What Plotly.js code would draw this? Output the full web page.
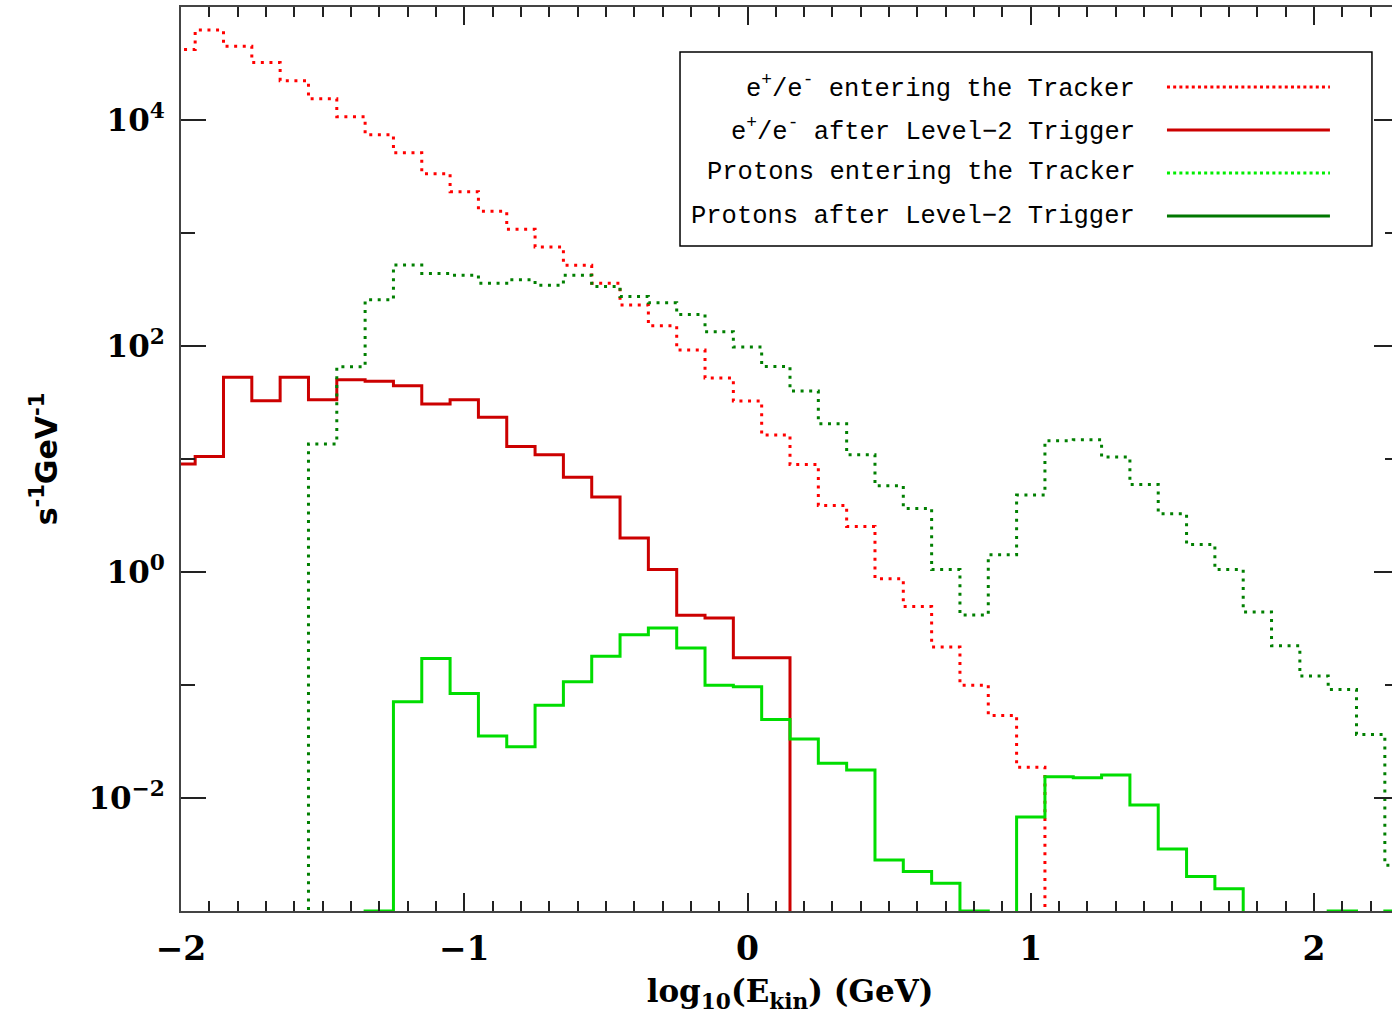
<!DOCTYPE html>
<html><head><meta charset="utf-8">
<script src="https://cdn.plot.ly/plotly-3.0.1.min.js"></script>
<style>html,body{margin:0;padding:0;overflow:hidden;background:#fff}#chart{width:1400px;height:1015px}</style>
</head><body><div id="chart"></div><script>
// bin centres of log10(Ekin/GeV), bin width 0.1
const binCenters = [-2.0,-1.9,-1.8,-1.7,-1.6,-1.5,-1.4,-1.3,-1.2,-1.1,-1.0,-0.9,-0.8,-0.7,-0.6,-0.5,-0.4,-0.3,-0.2,-0.1,
  0.0,0.1,0.2,0.3,0.4,0.5,0.6,0.7,0.8,0.9,1.0,1.1,1.2,1.3,1.4,1.5,1.6,1.7,1.8,1.9,2.0,2.1,2.2,2.3];
const binWidth = 0.1;

// rates in s^-1 GeV^-1 (0 = empty bin)
const eeEntering = [42000,62600,44900,32200,22300,15400,10700,7400,5130,3350,2320,1555,1078,752,518,359,231,151,92,52,
  32.6,16.3,8.92,3.88,2.53,0.873,0.494,0.217,0.0996,0.0538,0.0187,0,0,0,0,0,0,0,0,0,0,0,0,0];
const eeAfterL2 = [9.05,10.5,52.8,32.8,52.8,33.5,50.3,48.7,44.5,30.7,33.5,23.4,12.9,10.9,6.91,4.60,2.00,1.05,0.414,0.392,
  0.174,0.174,0,0,0,0,0,0,0,0,0,0,0,0,0,0,0,0,0,0,0,0,0,0];
const pEntering = [0,0,0,0,0,13.6,65.5,256,521,438,423,359,385,345,423,336,274,241,190,134,
  97.8,65.8,40.0,20.5,10.9,5.79,3.65,1.05,0.417,1.42,4.79,14.5,14.8,10.4,5.94,3.27,1.75,1.05,0.443,0.222,0.120,0.0912,0.0365,0.00254];
const pAfterL2 = [0,0,0,0,0,0,0,0.001,0.0711,0.1715,0.0841,0.0354,0.0284,0.0663,0.1067,0.1796,0.279,0.320,0.213,0.0996,
  0.0964,0.0496,0.0332,0.0203,0.0177,0.00283,0.00224,0.00176,0.001,0,0.0068,0.01545,0.0151,0.0160,0.00867,0.00354,0.00202,0.00157,0,0,0,0.001,0,0.001];

const seriesNames = ['e<sup>+</sup>/e<sup>-</sup> entering the Tracker','e<sup>+</sup>/e<sup>-</sup> after Level\u22122 Trigger',
  'Protons entering the Tracker','Protons after Level\u22122 Trigger'];

const FLOOR = 1e-6; // empty bins drawn below the axis
function stepTrace(vals, color, dash, width) {
  const x = binCenters.map(c => c - binWidth / 2);
  x.push(binCenters[binCenters.length - 1] + binWidth / 2);
  const y = vals.map(v => v > 0 ? v : FLOOR);
  y.push(y[y.length - 1]);
  return {x: x, y: y, type: 'scatter', mode: 'lines', line: {shape: 'hv', color: color, dash: dash, width: width},
    showlegend: false, hoverinfo: 'skip'};
}
const DOT = '3px,5.6px';
const traces = [
  stepTrace(eeEntering, '#ff0000', DOT, 3),
  stepTrace(eeAfterL2, '#cc0000', 'solid', 3),
  stepTrace(pEntering, '#007f00', DOT, 3),
  stepTrace(pAfterL2, '#00dd00', 'solid', 3)
];

// hand-drawn legend (text left of line sample, as in the original)
const legendColors = ['#ff0000', '#cc0000', '#00ee00', '#007700'];
const legendDash = ['dot', 'solid', 'dot', 'solid'];
const legendRowsY = [0.9115, 0.8639, 0.8164, 0.7688];
const shapes = [{type: 'rect', xref: 'paper', yref: 'paper', x0: 0.4097, x1: 0.9778, y0: 0.7356, y1: 0.9502,
  line: {color: '#000', width: 1.5}, fillcolor: '#fff', layer: 'above'}];
const annotations = [];
legendRowsY.forEach((yy, i) => {
  shapes.push({type: 'line', xref: 'paper', yref: 'paper', x0: 0.8095, x1: 0.9433, y0: yy, y1: yy, layer: 'above',
    line: {color: legendColors[i], width: 3, dash: legendDash[i] === 'dot' ? '3px,3.2px' : 'solid'}});
  annotations.push({xref: 'paper', yref: 'paper', x: 0.7849, y: yy, xanchor: 'right', yanchor: 'middle', showarrow: false,
    text: seriesNames[i], font: {family: 'Liberation Mono', size: 25.5, color: '#000'}});
});

const axisCommon = {showline: true, linecolor: '#444', linewidth: 2, mirror: 'ticks', ticks: 'inside',
  tickcolor: '#222', tickwidth: 2, showgrid: false, zeroline: false, automargin: false};

const layout = {
  width: 1400, height: 1015,
  margin: {l: 181, r: 1, t: 7, b: 104},
  paper_bgcolor: '#fff', plot_bgcolor: '#fff',
  showlegend: false,
  xaxis: Object.assign({}, axisCommon, {
    range: [-2, 2.3], tickmode: 'linear', tick0: 0, dtick: 1, ticklen: 18,
    tickformat: 'd', ticklabelstandoff: 7,
    minor: {tickmode: 'linear', tick0: 0, dtick: 0.1, ticks: 'inside', ticklen: 10, tickwidth: 2, tickcolor: '#222', showgrid: false},
    tickfont: {family: 'DejaVu Serif', size: 33, color: '#000', weight: 'bold'},
    title: {text: 'log<sub>10</sub>(E<sub>kin</sub>) (GeV)', standoff: 14,
      font: {family: 'DejaVu Serif', size: 31, color: '#000', weight: 'bold'}}
  }),
  yaxis: Object.assign({}, axisCommon, {
    type: 'log', range: [-3, 5], tickmode: 'array',
    tickvals: [1e-2, 1, 1e2, 1e4],
    ticktext: ['10<sup>\u22122</sup>', '10<sup>0</sup>', '10<sup>2</sup>', '10<sup>4</sup>'],
    ticklen: 25, ticklabelstandoff: 8,
    minor: {tickmode: 'array', tickvals: [1e-3, 1e-1, 10, 1e3, 1e5], ticks: 'inside', ticklen: 14, tickwidth: 2, tickcolor: '#222', showgrid: false},
    tickfont: {family: 'DejaVu Serif', size: 31, color: '#000', weight: 'bold'},
    title: {text: 's<sup>-1</sup>GeV<sup>-1</sup>', standoff: 22,
      font: {family: 'DejaVu Sans', size: 30, color: '#000', weight: 'bold'}}
  }),
  shapes: shapes,
  annotations: annotations
};

Plotly.newPlot('chart', traces, layout, {displayModeBar: false, staticPlot: true});
</script></body></html>
